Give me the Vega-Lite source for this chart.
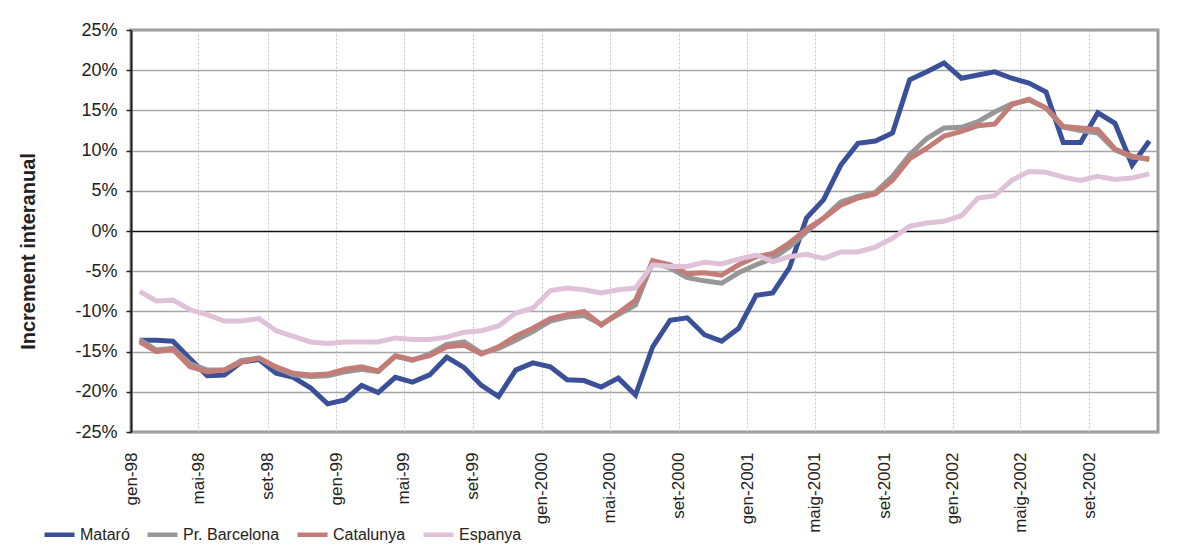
{
  "$schema": "https://vega.github.io/schema/vega-lite/v6.json",
  "autosize": {"type": "none"},
  "width": 1027,
  "height": 402,
  "padding": {"left": 131, "top": 30, "right": 23, "bottom": 114},
  "background": "white",
  "config": {
    "font": "Liberation Sans",
    "view": {"stroke": "#9a9a9a", "strokeWidth": 3}
  },
  "data": {
    "values": [
      {"mes": "1998-01", "Mataró": -13.6, "Barcelona": -13.5, "Catalunya": -13.8, "Espanya": -7.5},
      {"mes": "1998-02", "Mataró": -13.6, "Barcelona": -14.8, "Catalunya": -15.0, "Espanya": -8.7},
      {"mes": "1998-03", "Mataró": -13.7, "Barcelona": -14.6, "Catalunya": -14.7, "Espanya": -8.6},
      {"mes": "1998-04", "Mataró": -15.9, "Barcelona": -16.5, "Catalunya": -16.9, "Espanya": -9.8},
      {"mes": "1998-05", "Mataró": -18.0, "Barcelona": -17.3, "Catalunya": -17.5, "Espanya": -10.4},
      {"mes": "1998-06", "Mataró": -17.9, "Barcelona": -17.3, "Catalunya": -17.3, "Espanya": -11.2},
      {"mes": "1998-07", "Mataró": -16.3, "Barcelona": -16.1, "Catalunya": -16.3, "Espanya": -11.2},
      {"mes": "1998-08", "Mataró": -16.0, "Barcelona": -15.8, "Catalunya": -15.8, "Espanya": -10.9},
      {"mes": "1998-09", "Mataró": -17.7, "Barcelona": -17.0, "Catalunya": -16.9, "Espanya": -12.4},
      {"mes": "1998-10", "Mataró": -18.2, "Barcelona": -17.9, "Catalunya": -17.7, "Espanya": -13.1},
      {"mes": "1998-11", "Mataró": -19.5, "Barcelona": -18.1, "Catalunya": -17.9, "Espanya": -13.8},
      {"mes": "1998-12", "Mataró": -21.5, "Barcelona": -18.0, "Catalunya": -17.8, "Espanya": -14.0},
      {"mes": "1999-01", "Mataró": -21.0, "Barcelona": -17.5, "Catalunya": -17.2, "Espanya": -13.8},
      {"mes": "1999-02", "Mataró": -19.2, "Barcelona": -17.2, "Catalunya": -16.9, "Espanya": -13.8},
      {"mes": "1999-03", "Mataró": -20.1, "Barcelona": -17.5, "Catalunya": -17.4, "Espanya": -13.8},
      {"mes": "1999-04", "Mataró": -18.2, "Barcelona": -15.6, "Catalunya": -15.5, "Espanya": -13.3},
      {"mes": "1999-05", "Mataró": -18.8, "Barcelona": -16.1, "Catalunya": -16.0, "Espanya": -13.5},
      {"mes": "1999-06", "Mataró": -17.9, "Barcelona": -15.3, "Catalunya": -15.5, "Espanya": -13.5},
      {"mes": "1999-07", "Mataró": -15.7, "Barcelona": -14.1, "Catalunya": -14.4, "Espanya": -13.2},
      {"mes": "1999-08", "Mataró": -17.0, "Barcelona": -13.8, "Catalunya": -14.2, "Espanya": -12.6},
      {"mes": "1999-09", "Mataró": -19.2, "Barcelona": -15.2, "Catalunya": -15.3, "Espanya": -12.4},
      {"mes": "1999-10", "Mataró": -20.6, "Barcelona": -14.6, "Catalunya": -14.4, "Espanya": -11.8},
      {"mes": "1999-11", "Mataró": -17.3, "Barcelona": -13.6, "Catalunya": -13.1, "Espanya": -10.2},
      {"mes": "1999-12", "Mataró": -16.4, "Barcelona": -12.5, "Catalunya": -12.1, "Espanya": -9.6},
      {"mes": "2000-01", "Mataró": -16.9, "Barcelona": -11.2, "Catalunya": -10.9, "Espanya": -7.4},
      {"mes": "2000-02", "Mataró": -18.5, "Barcelona": -10.7, "Catalunya": -10.4, "Espanya": -7.1},
      {"mes": "2000-03", "Mataró": -18.6, "Barcelona": -10.5, "Catalunya": -10.0, "Espanya": -7.3},
      {"mes": "2000-04", "Mataró": -19.4, "Barcelona": -11.6, "Catalunya": -11.7, "Espanya": -7.7},
      {"mes": "2000-05", "Mataró": -18.3, "Barcelona": -10.4, "Catalunya": -10.2, "Espanya": -7.3},
      {"mes": "2000-06", "Mataró": -20.4, "Barcelona": -9.2, "Catalunya": -8.6, "Espanya": -7.1},
      {"mes": "2000-07", "Mataró": -14.4, "Barcelona": -3.9, "Catalunya": -3.7, "Espanya": -4.2},
      {"mes": "2000-08", "Mataró": -11.1, "Barcelona": -4.6, "Catalunya": -4.2, "Espanya": -4.4},
      {"mes": "2000-09", "Mataró": -10.8, "Barcelona": -5.8, "Catalunya": -5.3, "Espanya": -4.4},
      {"mes": "2000-10", "Mataró": -12.9, "Barcelona": -6.2, "Catalunya": -5.2, "Espanya": -3.9},
      {"mes": "2000-11", "Mataró": -13.7, "Barcelona": -6.5, "Catalunya": -5.5, "Espanya": -4.1},
      {"mes": "2000-12", "Mataró": -12.1, "Barcelona": -5.2, "Catalunya": -4.2, "Espanya": -3.5},
      {"mes": "2001-01", "Mataró": -8.0, "Barcelona": -4.2, "Catalunya": -3.2, "Espanya": -3.0},
      {"mes": "2001-02", "Mataró": -7.7, "Barcelona": -3.4, "Catalunya": -2.8, "Espanya": -3.8},
      {"mes": "2001-03", "Mataró": -4.6, "Barcelona": -2.0, "Catalunya": -1.5, "Espanya": -3.2},
      {"mes": "2001-04", "Mataró": 1.6, "Barcelona": -0.1, "Catalunya": 0.2, "Espanya": -2.9},
      {"mes": "2001-05", "Mataró": 3.9, "Barcelona": 1.6, "Catalunya": 1.6, "Espanya": -3.4},
      {"mes": "2001-06", "Mataró": 8.2, "Barcelona": 3.6, "Catalunya": 3.2, "Espanya": -2.6},
      {"mes": "2001-07", "Mataró": 10.9, "Barcelona": 4.3, "Catalunya": 4.1, "Espanya": -2.6},
      {"mes": "2001-08", "Mataró": 11.2, "Barcelona": 4.8, "Catalunya": 4.6, "Espanya": -2.0},
      {"mes": "2001-09", "Mataró": 12.2, "Barcelona": 6.8, "Catalunya": 6.3, "Espanya": -0.9},
      {"mes": "2001-10", "Mataró": 18.8, "Barcelona": 9.5, "Catalunya": 9.0, "Espanya": 0.6},
      {"mes": "2001-11", "Mataró": 19.8, "Barcelona": 11.5, "Catalunya": 10.3, "Espanya": 1.0},
      {"mes": "2001-12", "Mataró": 20.9, "Barcelona": 12.8, "Catalunya": 11.8, "Espanya": 1.2},
      {"mes": "2002-01", "Mataró": 19.0, "Barcelona": 12.9, "Catalunya": 12.4, "Espanya": 1.9},
      {"mes": "2002-02", "Mataró": 19.4, "Barcelona": 13.6, "Catalunya": 13.1, "Espanya": 4.1},
      {"mes": "2002-03", "Mataró": 19.8, "Barcelona": 14.8, "Catalunya": 13.3, "Espanya": 4.4},
      {"mes": "2002-04", "Mataró": 19.0, "Barcelona": 15.8, "Catalunya": 15.7, "Espanya": 6.3},
      {"mes": "2002-05", "Mataró": 18.4, "Barcelona": 16.3, "Catalunya": 16.4, "Espanya": 7.4},
      {"mes": "2002-06", "Mataró": 17.3, "Barcelona": 15.3, "Catalunya": 15.3, "Espanya": 7.3},
      {"mes": "2002-07", "Mataró": 11.0, "Barcelona": 12.9, "Catalunya": 13.0, "Espanya": 6.7},
      {"mes": "2002-08", "Mataró": 11.0, "Barcelona": 12.5, "Catalunya": 12.8, "Espanya": 6.3},
      {"mes": "2002-09", "Mataró": 14.7, "Barcelona": 12.2, "Catalunya": 12.6, "Espanya": 6.8},
      {"mes": "2002-10", "Mataró": 13.4, "Barcelona": 10.1, "Catalunya": 10.2, "Espanya": 6.4},
      {"mes": "2002-11", "Mataró": 8.2, "Barcelona": 9.2, "Catalunya": 9.3, "Espanya": 6.6},
      {"mes": "2002-12", "Mataró": 11.2, "Barcelona": 9.0, "Catalunya": 8.9, "Espanya": 7.1}
    ]
  },
  "transform": [
    {"fold": ["Mataró", "Barcelona", "Catalunya", "Espanya"], "as": ["serie", "v"]}
  ],
  "mark": {"type": "line", "strokeWidth": 5, "strokeJoin": "miter", "strokeCap": "butt"},
  "encoding": {
    "x": {
      "field": "mes",
      "type": "temporal",
      "timeUnit": "utcyearmonth",
      "bandPosition": 0.5,
      "scale": {
        "type": "utc",
        "domain": [
          {"year": 1998, "month": 1, "date": 1, "utc": true},
          {"year": 2003, "month": 1, "date": 1, "utc": true}
        ]
      },
      "axis": {
        "title": null,
        "values": [
          {"year": 1998, "month": 1, "date": 1, "utc": true},
          {"year": 1998, "month": 5, "date": 1, "utc": true},
          {"year": 1998, "month": 9, "date": 1, "utc": true},
          {"year": 1999, "month": 1, "date": 1, "utc": true},
          {"year": 1999, "month": 5, "date": 1, "utc": true},
          {"year": 1999, "month": 9, "date": 1, "utc": true},
          {"year": 2000, "month": 1, "date": 1, "utc": true},
          {"year": 2000, "month": 5, "date": 1, "utc": true},
          {"year": 2000, "month": 9, "date": 1, "utc": true},
          {"year": 2001, "month": 1, "date": 1, "utc": true},
          {"year": 2001, "month": 5, "date": 1, "utc": true},
          {"year": 2001, "month": 9, "date": 1, "utc": true},
          {"year": 2002, "month": 1, "date": 1, "utc": true},
          {"year": 2002, "month": 5, "date": 1, "utc": true},
          {"year": 2002, "month": 9, "date": 1, "utc": true}
        ],
        "labelExpr": "(utcmonth(datum.value) == 0 ? 'gen' : utcmonth(datum.value) == 4 ? (utcyear(datum.value) >= 2001 ? 'maig' : 'mai') : 'set') + '-' + (utcyear(datum.value) < 2000 ? utcFormat(datum.value, '%y') : utcFormat(datum.value, '%Y'))",
        "labelAngle": -90,
        "labelAlign": "right",
        "labelBaseline": "middle",
        "labelPadding": 20,
        "labelFontSize": 17,
        "labelColor": "#222222",
        "labelOverlap": false,
        "labelBound": false,
        "labelFlush": false,
        "ticks": false,
        "domain": false,
        "grid": true,
        "gridColor": "#c4c4c4",
        "gridDash": [2, 2],
        "gridWidth": 1
      }
    },
    "y": {
      "field": "v",
      "type": "quantitative",
      "scale": {"domain": [-25, 25], "nice": false, "zero": false},
      "axis": {
        "values": [-25, -20, -15, -10, -5, 0, 5, 10, 15, 20, 25],
        "labelExpr": "datum.value + '%'",
        "labelFontSize": 18,
        "labelColor": "#222222",
        "labelPadding": 9,
        "tickSize": 5,
        "tickColor": "#222222",
        "tickWidth": 1.5,
        "domainColor": "#222222",
        "domainWidth": 2,
        "grid": true,
        "gridColor": {"condition": {"test": "datum.value === 0", "value": "#111111"}, "value": "#a6a6a6"},
        "gridWidth": 1.5,
        "title": "Increment interanual",
        "titleFontSize": 20,
        "titleFontWeight": "bold",
        "titleColor": "#222222",
        "titlePadding": 36,
        "titleY": 221
      }
    },
    "color": {
      "field": "serie",
      "type": "nominal",
      "sort": ["Mataró", "Barcelona", "Catalunya", "Espanya"],
      "scale": {
        "domain": ["Mataró", "Barcelona", "Catalunya", "Espanya"],
        "range": ["#3a5098", "#979797", "#c47d76", "#e0c2d8"]
      },
      "legend": {
        "orient": "none",
        "legendX": -89,
        "legendY": 487,
        "direction": "horizontal",
        "title": null,
        "symbolType": "stroke",
        "symbolSize": 900,
        "symbolStrokeWidth": 4.5,
        "labelFontSize": 16,
        "labelColor": "#222222",
        "labelOffset": 3,
        "columnPadding": 8,
        "labelExpr": "datum.label == 'Barcelona' ? 'Pr. Barcelona' : datum.label"
      }
    }
  }
}
